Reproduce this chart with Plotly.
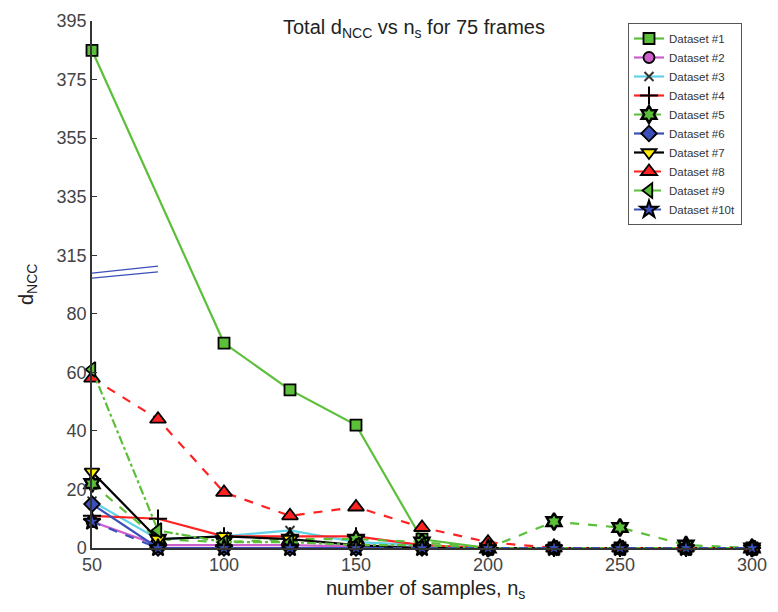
import plotly.graph_objects as go

# ---- data ----
n_s = [50, 75, 100, 125, 150, 175, 200, 225, 250, 275, 300]
n_s_ds1 = [50, 100, 125, 150, 175, 200, 225, 250, 275, 300]

ds1 = [385, 70, 54, 42, 3, 0, 0, 0, 0, 0]
ds2 = [9, 1, 1, 1, 0.5, 0, 0, 0, 0, 0, 0]
ds3 = [16, 3, 4, 6, 2, 1, 0, 0, 0, 0, 0]
ds4 = [11, 10, 4, 4, 4, 1, 0, 0, 0, 0, 0]
ds5 = [22, 3, 2, 3, 3, 2, 0, 9, 7, 1, 0]
ds6 = [15, 0, 0, 0, 0, 0, 0, 0, 0, 0, 0]
ds7 = [26, 3, 4, 3, 1, 0, 0, 0, 0, 0, 0]
ds8 = [58, 44, 19, 11, 14, 7, 2, 0, 0, 0, 0]
ds9 = [61, 6, 2, 2, 1, 1, 0, 0, 0, 0, 0]
ds10 = [9, 0, 0, 0, 0, 0, 0, 0, 0, 0, 0]

x_ticks = [50, 100, 150, 200, 250, 300]
y_tick_values = [0, 20, 40, 60, 80, 315, 335, 355, 375, 395]

BREAK_LOW = 100      # top of lower segment
BREAK_HIGH = 315     # start of upper segment


def brk(v):
    """Map a value onto the broken axis (values above break are shifted down)."""
    return v - (BREAK_HIGH - BREAK_LOW) if v > BREAK_LOW else v


GREEN = '#5cbf3a'
MAGENTA = '#cc5fcc'
CYAN = '#5fd2e6'
RED = '#ff2222'
BLUE = '#3a4fb8'
BLACK = '#000000'
YELLOW = '#ffee00'

series = [
    dict(name='Dataset #1', x=n_s_ds1, y=ds1, color=GREEN, dash='solid',
         marker=dict(symbol='square', size=11, color=GREEN, line=dict(color=BLACK, width=1.8))),
    dict(name='Dataset #2', x=n_s, y=ds2, color=MAGENTA, dash='solid',
         marker=dict(symbol='circle', size=11, color=MAGENTA, line=dict(color=BLACK, width=1.8))),
    dict(name='Dataset #3', x=n_s, y=ds3, color=CYAN, dash='solid',
         marker=dict(symbol='x-thin-open', size=9, color='#333333', line=dict(color='#333333', width=2))),
    dict(name='Dataset #4', x=n_s, y=ds4, color=RED, dash='solid',
         marker=dict(symbol='cross-thin-open', size=13, color=BLACK, line=dict(color=BLACK, width=2))),
    dict(name='Dataset #5', x=n_s, y=ds5, color=GREEN, dash='dash',
         marker=dict(symbol='hexagram', size=13, color=GREEN, line=dict(color=BLACK, width=2.5))),
    dict(name='Dataset #6', x=n_s, y=ds6, color=BLUE, dash='solid',
         marker=dict(symbol='diamond', size=12, color=BLUE, line=dict(color=BLACK, width=1.8))),
    dict(name='Dataset #7', x=n_s, y=ds7, color=BLACK, dash='solid',
         marker=dict(symbol='triangle-down', size=13, color=YELLOW, line=dict(color=BLACK, width=1.8))),
    dict(name='Dataset #8', x=n_s, y=ds8, color=RED, dash='dash',
         marker=dict(symbol='triangle-up', size=14, color=RED, line=dict(color=BLACK, width=1.8))),
    dict(name='Dataset #9', x=n_s, y=ds9, color=GREEN, dash='dashdot',
         marker=dict(symbol='triangle-left', size=13, color=GREEN, line=dict(color=BLACK, width=1.8))),
    dict(name='Dataset #10t', x=n_s, y=ds10, color=BLUE, dash='dash',
         marker=dict(symbol='star', size=13, color=BLUE, line=dict(color=BLACK, width=2))),
]

fig = go.Figure()
for s in series:
    fig.add_trace(go.Scatter(
        x=s['x'], y=[brk(v) for v in s['y']], name=s['name'],
        mode='lines+markers', cliponaxis=False,
        line=dict(color=s['color'], width=2.2, dash=s['dash']),
        marker=s['marker'],
    ))

# broken-axis marker (two slanted lines)
for y0, y1 in [(93.9, 96.3), (92.2, 94.3)]:
    fig.add_shape(type='line', xref='x', yref='y', x0=50, x1=75, y0=y0, y1=y1,
                  line=dict(color=BLUE, width=1.3))

FONT = 'Liberation Sans, Arial, sans-serif'

# page has an 8px body margin: figure is 770x604 so plot area lands at x 92-752, y 21-548
fig.update_layout(
    template='none',
    width=770, height=604,
    margin=dict(l=84, r=26, t=13, b=64, autoexpand=False),
    plot_bgcolor='white', paper_bgcolor='white',
    font=dict(family=FONT, color='#333333'),
    showlegend=True,
    legend=dict(x=(628 - 92) / 660, y=(548 - 23) / 527, xanchor='left', yanchor='top',
                bgcolor='white', bordercolor='#555555', borderwidth=1,
                font=dict(size=11.5, color='#333333'), tracegroupgap=0,
                itemwidth=30, entrywidth=110, entrywidthmode='pixels'),
    xaxis=dict(range=[50, 300], tickvals=x_ticks, ticktext=[str(v) for v in x_ticks],
               automargin=False,
               showgrid=False, zeroline=False, showline=True, linecolor='#333333', linewidth=1.5,
               ticks='inside', ticklen=5, tickcolor='#333333',
               tickfont=dict(size=18, family=FONT, color='#444444')),
    yaxis=dict(range=[0, 180], tickvals=[brk(v) for v in y_tick_values],
               ticktext=[str(v) for v in y_tick_values],
               automargin=False,
               showgrid=False, zeroline=False, showline=True, linecolor='#333333', linewidth=1.5,
               ticks='inside', ticklen=5, tickcolor='#333333',
               tickfont=dict(size=18, family=FONT, color='#444444')),
)

fig.add_annotation(text='Total d<sub>NCC</sub> vs n<sub>s</sub> for 75 frames',
                   xref='paper', yref='paper', x=(414 - 92) / 660, y=(548 - 29) / 527,
                   xanchor='center', yanchor='middle',
                   showarrow=False, font=dict(size=20, family=FONT, color='#222222'))
fig.add_annotation(text='number of samples, n<sub>s</sub>',
                   xref='paper', yref='paper', x=(425 - 92) / 660, y=(548 - 575) / 527,
                   xanchor='center', yanchor='top',
                   showarrow=False, font=dict(size=20, family=FONT, color='#222222'))
fig.add_annotation(text='d<sub>NCC</sub>', textangle=-90,
                   xref='paper', yref='paper', x=(27 - 92) / 660, y=(548 - 285) / 527,
                   xanchor='center', yanchor='middle',
                   showarrow=False, font=dict(size=20, family=FONT, color='#222222'))

fig.write_html('out.html')
